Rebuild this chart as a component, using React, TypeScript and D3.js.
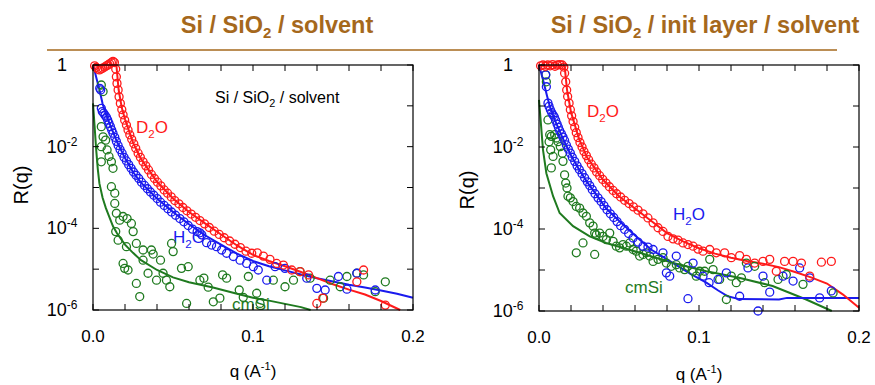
import * as d3 from 'd3';
import React from 'react';

// each point is [q (1/A), log10 R]
type Pt = [number, number];

const xTicks = [0, 0.02, 0.04, 0.06, 0.08, 0.1, 0.12, 0.14, 0.16, 0.18, 0.2];
const xTickLabels = [0, 0.1, 0.2];
const yTicks = [1, 1e-1, 1e-2, 1e-3, 1e-4, 1e-5, 1e-6];
const yTickLabels = [0, -2, -4, -6];

const leftD2O: Pt[] = [
  [0.001, -0.02], [0.002, -0.06], [0.003, -0.1], [0.004, -0.12], [0.005, -0.1], [0.006, -0.08],
  [0.0073, -0.05], [0.0084, -0.02], [0.0094, 0.0], [0.0104, 0.03], [0.0115, 0.06], [0.0125, 0.09],
  [0.0134, 0.06], [0.0142, -0.1], [0.0146, -0.29], [0.015, -0.45], [0.0157, -0.61], [0.0163, -0.78],
  [0.0171, -0.94], [0.018, -1.09], [0.0188, -1.22], [0.0198, -1.35], [0.0209, -1.47], [0.0219, -1.59],
  [0.023, -1.71], [0.0242, -1.82], [0.0255, -1.93], [0.0267, -2.04], [0.0282, -2.16], [0.0296, -2.26],
  [0.0313, -2.37], [0.033, -2.47], [0.0347, -2.57], [0.0365, -2.68], [0.0384, -2.78], [0.0403, -2.87],
  [0.0424, -2.96], [0.0445, -3.06], [0.0466, -3.14], [0.0489, -3.23], [0.0511, -3.32], [0.0537, -3.4],
  [0.0562, -3.49], [0.0587, -3.57], [0.0614, -3.65], [0.0641, -3.73], [0.0668, -3.81], [0.0697, -3.89],
  [0.0727, -3.98], [0.0758, -4.07], [0.0789, -4.15], [0.082, -4.23], [0.0854, -4.31], [0.0887, -4.39],
  [0.0921, -4.47], [0.0956, -4.56], [0.0992, -4.61], [0.1027, -4.6], [0.1065, -4.68], [0.1106, -4.76],
  [0.1148, -4.86], [0.119, -4.9], [0.1242, -5.02], [0.1294, -5.06], [0.1347, -5.14], [0.1399, -5.84],
  [0.1436, -5.71], [0.1649, -5.31], [0.1691, -5.02], [0.1827, -5.88],
];
const leftD2OFit: Pt[] = [
  [0, 0], [0.0146, 0], [0.016, -0.6], [0.018, -1.05], [0.02, -1.33], [0.025, -1.9], [0.03, -2.3],
  [0.04, -2.86], [0.05, -3.27], [0.06, -3.6], [0.07, -3.88], [0.08, -4.15], [0.09, -4.42], [0.1, -4.65],
  [0.11, -4.8], [0.12, -4.93], [0.13, -5.07], [0.14, -5.22], [0.15, -5.37], [0.16, -5.5], [0.17, -5.62],
  [0.18, -5.78], [0.192, -6.0],
];
const leftH2O: Pt[] = [
  [0.0042, -0.57], [0.0048, -0.61], [0.0052, -1.06], [0.0058, -1.14], [0.0067, -1.18], [0.0075, -1.23],
  [0.0084, -1.28], [0.0092, -1.35], [0.01, -1.43], [0.0109, -1.51], [0.0117, -1.59], [0.0125, -1.67],
  [0.0136, -1.77], [0.0146, -1.87], [0.0157, -1.97], [0.0169, -2.07], [0.0182, -2.16], [0.0194, -2.26],
  [0.0209, -2.35], [0.0223, -2.44], [0.0238, -2.53], [0.0253, -2.62], [0.0269, -2.7], [0.0286, -2.78],
  [0.0303, -2.87], [0.0322, -2.95], [0.034, -3.03], [0.0359, -3.11], [0.038, -3.19], [0.0401, -3.27],
  [0.0422, -3.36], [0.0445, -3.44], [0.0468, -3.52], [0.0491, -3.6], [0.0516, -3.68], [0.0543, -3.76],
  [0.0568, -3.84], [0.0595, -3.93], [0.0622, -4.02], [0.0651, -4.08], [0.0668, -4.11], [0.068, -4.16],
  [0.071, -4.35], [0.0741, -4.41], [0.0772, -4.45], [0.0804, -4.53], [0.0835, -4.61], [0.0877, -4.69],
  [0.0919, -4.78], [0.096, -4.86], [0.1002, -4.94], [0.1033, -5.02], [0.1086, -5.27], [0.1138, -4.94],
  [0.12, -4.98], [0.1336, -5.22], [0.1399, -5.47], [0.1451, -5.51], [0.1534, -5.18], [0.1587, -5.49],
  [0.1649, -5.1], [0.1764, -5.51],
];
const leftH2OFit: Pt[] = [
  [0.0004, -0.04], [0.002, -0.3], [0.004, -0.6], [0.006, -0.95], [0.008, -1.2], [0.01, -1.4],
  [0.015, -1.88], [0.02, -2.28], [0.025, -2.62], [0.03, -2.88], [0.04, -3.27], [0.05, -3.6],
  [0.06, -3.9], [0.07, -4.17], [0.08, -4.4], [0.09, -4.62], [0.1, -4.8], [0.11, -4.93], [0.12, -5.03],
  [0.13, -5.13], [0.14, -5.22], [0.15, -5.3], [0.16, -5.38], [0.17, -5.45], [0.18, -5.52],
  [0.19, -5.6], [0.2, -5.7],
];
const leftCmSi: Pt[] = [
  [0.0052, -0.49], [0.0063, -0.65], [0.0052, -1.51], [0.0063, -1.76], [0.0079, -1.84], [0.0052, -2.0],
  [0.0088, -2.08], [0.01, -2.24], [0.0115, -2.37], [0.0052, -2.37], [0.0125, -2.53], [0.0115, -2.98],
  [0.0136, -3.14], [0.0136, -3.39], [0.0146, -3.63], [0.0167, -3.8], [0.0188, -3.71], [0.0213, -3.76],
  [0.024, -3.88], [0.0251, -4.08], [0.0142, -4.08], [0.0157, -4.29], [0.0209, -4.45], [0.0271, -4.37],
  [0.0313, -4.53], [0.0365, -4.53], [0.0376, -4.63], [0.0313, -4.78], [0.0422, -4.78], [0.0188, -4.86],
  [0.0198, -4.98], [0.0219, -5.02], [0.0271, -5.35], [0.0292, -5.67], [0.0344, -5.1], [0.0397, -5.27],
  [0.0438, -5.1], [0.0459, -5.27], [0.048, -5.43], [0.0491, -4.37], [0.0501, -4.57], [0.0553, -4.98],
  [0.0595, -4.94], [0.0585, -5.84], [0.0668, -5.27], [0.0693, -5.22], [0.072, -5.44], [0.0752, -5.8],
  [0.0793, -5.71], [0.081, -5.14], [0.0835, -5.22], [0.0914, -5.51], [0.0939, -5.69], [0.0971, -5.18],
  [0.1023, -5.59], [0.1044, -5.84], [0.1127, -5.27], [0.12, -5.43], [0.1253, -5.27], [0.1294, -5.06],
  [0.1357, -5.22], [0.1441, -5.71], [0.1482, -5.27], [0.1545, -5.43], [0.1587, -5.18], [0.1649, -5.1],
  [0.1691, -5.14], [0.1764, -5.55], [0.1827, -5.31],
];
const leftCmSiFit: Pt[] = [
  [0, -0.94], [0.001, -1.5], [0.002, -2.08], [0.003, -2.55], [0.004, -2.9], [0.006, -3.25],
  [0.008, -3.5], [0.01, -3.7], [0.0125, -3.95], [0.015, -4.12], [0.02, -4.4], [0.025, -4.6],
  [0.03, -4.78], [0.04, -5.02], [0.05, -5.2], [0.06, -5.32], [0.075, -5.45], [0.09, -5.6], [0.1, -5.7],
  [0.11, -5.77], [0.12, -5.85], [0.13, -5.93], [0.136, -6.0],
];

const rightD2O: Pt[] = [
  [0.001, -0.02], [0.0025, 0.0], [0.004, -0.03], [0.0055, 0.0], [0.007, -0.02], [0.0085, 0.01],
  [0.01, -0.03], [0.0115, 0.0], [0.013, 0.01], [0.0145, 0.0], [0.0155, -0.05], [0.016, -0.2],
  [0.0167, -0.41], [0.0173, -0.61], [0.0179, -0.77], [0.0188, -0.93], [0.0196, -1.09], [0.0204, -1.24],
  [0.0213, -1.38], [0.0223, -1.52], [0.0233, -1.65], [0.0244, -1.77], [0.0256, -1.89], [0.0269, -2.0],
  [0.0281, -2.11], [0.0296, -2.21], [0.031, -2.31], [0.0327, -2.42], [0.0344, -2.51], [0.036, -2.61],
  [0.0379, -2.7], [0.0398, -2.79], [0.0419, -2.88], [0.044, -2.97], [0.0463, -3.06], [0.0485, -3.14],
  [0.051, -3.22], [0.0535, -3.3], [0.0563, -3.38], [0.059, -3.46], [0.0619, -3.54], [0.065, -3.63],
  [0.0681, -3.73], [0.0713, -3.85], [0.0744, -3.97], [0.0775, -4.06], [0.0806, -4.18], [0.0838, -4.24],
  [0.0869, -4.27], [0.09, -4.34], [0.0931, -4.38], [0.0963, -4.42], [0.0994, -4.49], [0.1025, -4.54],
  [0.1067, -4.5], [0.1108, -4.58], [0.116, -4.58], [0.1202, -4.7], [0.1254, -4.65], [0.1296, -4.74],
  [0.1348, -4.83], [0.14, -4.79], [0.1442, -4.74], [0.1483, -5.03], [0.1535, -4.79], [0.1588, -4.79],
  [0.164, -4.83], [0.1692, -5.15], [0.1765, -4.81], [0.1827, -4.79],
];
const rightD2OFit: Pt[] = [
  [0, -0.02], [0.016, -0.02], [0.0175, -0.6], [0.02, -1.15], [0.025, -1.8], [0.03, -2.25],
  [0.04, -2.8], [0.05, -3.2], [0.06, -3.5], [0.07, -3.8], [0.08, -4.1], [0.09, -4.3], [0.1, -4.47],
  [0.11, -4.6], [0.12, -4.7], [0.13, -4.78], [0.14, -4.85], [0.15, -4.93], [0.16, -5.05], [0.17, -5.18],
  [0.18, -5.33], [0.19, -5.6], [0.2, -5.92],
];
const rightH2O: Pt[] = [
  [0.0042, -0.24], [0.0046, -0.53], [0.0056, -0.93], [0.0063, -1.01], [0.0071, -1.09], [0.0079, -1.16],
  [0.0088, -1.22], [0.0096, -1.27], [0.0104, -1.35], [0.0113, -1.44], [0.0121, -1.52], [0.0129, -1.6],
  [0.014, -1.68], [0.015, -1.76], [0.016, -1.84], [0.0171, -1.95], [0.0183, -2.05], [0.0196, -2.15],
  [0.0208, -2.25], [0.0223, -2.35], [0.0238, -2.46], [0.0252, -2.55], [0.0269, -2.65], [0.0285, -2.75],
  [0.0302, -2.85], [0.0317, -2.94], [0.0333, -3.04], [0.035, -3.14], [0.0369, -3.24], [0.0388, -3.33],
  [0.0406, -3.43], [0.0425, -3.53], [0.0446, -3.63], [0.0467, -3.72], [0.0488, -3.82], [0.051, -3.92],
  [0.0535, -4.01], [0.056, -4.11], [0.0588, -4.22], [0.0619, -4.32], [0.065, -4.42], [0.0681, -4.44],
  [0.0713, -4.5], [0.0775, -4.58], [0.0796, -5.07], [0.0817, -5.15], [0.0858, -4.66], [0.0931, -5.7],
  [0.0963, -4.83], [0.1025, -5.15], [0.1063, -5.31], [0.1119, -5.23], [0.1171, -5.07], [0.1254, -5.64],
  [0.1306, -4.95], [0.1369, -6.0], [0.14, -5.15], [0.1442, -5.54], [0.1525, -5.15], [0.1588, -5.27],
  [0.1629, -4.95], [0.1692, -5.19], [0.1754, -5.68], [0.1827, -5.51],
];
const rightH2OFit: Pt[] = [
  [0, 0], [0.0025, -0.36], [0.005, -0.75], [0.0067, -1.0], [0.01, -1.35], [0.015, -1.8], [0.02, -2.2],
  [0.025, -2.55], [0.03, -2.85], [0.035, -3.12], [0.042, -3.5], [0.05, -3.8], [0.063, -4.26],
  [0.07, -4.5], [0.0838, -4.83], [0.095, -5.1], [0.1046, -5.31], [0.112, -5.5], [0.118, -5.64],
  [0.125, -5.71], [0.15, -5.72], [0.155, -5.68], [0.2, -5.68],
];
const rightCmSi: Pt[] = [
  [0.0042, -0.24], [0.0046, -0.41], [0.0056, -1.34], [0.0067, -1.7], [0.0077, -1.74], [0.0063, -1.87],
  [0.0073, -2.07], [0.0088, -2.23], [0.0077, -2.51], [0.0098, -1.7], [0.0108, -1.78], [0.0119, -1.87],
  [0.0133, -1.99], [0.0146, -2.15], [0.015, -2.35], [0.016, -2.68], [0.0167, -2.88], [0.0175, -3.0],
  [0.0181, -3.2], [0.0196, -3.24], [0.0213, -3.33], [0.0233, -3.45], [0.0254, -3.49], [0.0275, -3.61],
  [0.0296, -3.69], [0.0317, -3.85], [0.0338, -3.93], [0.0348, -4.1], [0.0358, -4.14], [0.0379, -4.1],
  [0.04, -4.18], [0.0421, -4.26], [0.0442, -4.1], [0.0463, -4.3], [0.0483, -4.42], [0.0504, -4.46],
  [0.0525, -4.38], [0.0546, -4.42], [0.0567, -4.34], [0.0588, -4.5], [0.0608, -4.54], [0.0629, -4.66],
  [0.065, -4.62], [0.0671, -4.58], [0.0692, -4.66], [0.0713, -4.79], [0.0744, -4.74], [0.0775, -4.7],
  [0.0796, -4.83], [0.0827, -4.91], [0.0858, -4.87], [0.0879, -4.95], [0.091, -4.99], [0.0931, -4.91],
  [0.0963, -5.03], [0.0983, -5.15], [0.1004, -5.03], [0.1035, -5.03], [0.1067, -4.74], [0.1088, -4.99],
  [0.1129, -5.23], [0.1171, -5.72], [0.1202, -5.15], [0.1233, -5.31], [0.1265, -5.19], [0.1296, -4.83],
  [0.1348, -4.91], [0.141, -5.31], [0.1494, -5.23], [0.1546, -5.11], [0.165, -5.35], [0.1838, -5.56],
  [0.0233, -4.58], [0.0275, -4.34], [0.0348, -4.62],
];
const rightCmSiFit: Pt[] = [
  [0, -0.85], [0.0025, -2.07], [0.0046, -2.64], [0.0088, -3.2], [0.0129, -3.61], [0.0213, -3.93],
  [0.0317, -4.18], [0.042, -4.34], [0.063, -4.58], [0.0838, -4.83], [0.1046, -5.03], [0.125, -5.19],
  [0.146, -5.39], [0.167, -5.72], [0.183, -6.0],
];

const RED = '#ff1a1a';
const BLUE = '#1a1aee';
const GREEN = '#1f7a1f';
const TITLE = '#a5681c';
const FONT = 'Liberation Sans, Arial, Helvetica, sans-serif';

type Label = { text: string; sub?: string; rest?: string; color: string; x: number; y: number; size: number };

function SubText({ l }: { l: Label }) {
  return (
    <text x={l.x} y={l.y} fill={l.color} fontSize={l.size} fontFamily={FONT}>
      {l.text}
      {l.sub && <tspan dy={l.size * 0.28} fontSize={l.size * 0.68}>{l.sub}</tspan>}
      {l.rest && <tspan dy={-l.size * 0.28}>{l.rest}</tspan>}
    </text>
  );
}

function Panel(props: {
  box: { x0: number; x1: number; y0: number; y1: number };
  series: { pts: Pt[]; fit: Pt[]; color: string }[];
  labels: Label[];
  yLabelY: number;
  xLabelY: number;
}) {
  const { box } = props;
  const x = d3.scaleLinear().domain([0, 0.2]).range([box.x0, box.x1]);
  const y = d3.scaleLog().domain([1e-6, 1]).range([box.y1, box.y0]);
  const line = d3.line<Pt>().x(d => x(d[0])).y(d => y(Math.pow(10, d[1])));
  const tl = 6;
  const cx = (box.x0 + box.x1) / 2;

  return (
    <g>
      {/* fits */}
      {props.series.map((s, i) => (
        <path key={'f' + i} d={line(s.fit) || ''} fill="none" stroke={s.color} strokeWidth={2} />
      ))}
      {props.labels.map((l, i) => <SubText key={'l' + i} l={l} />)}
      {/* data */}
      {props.series.map((s, i) => (
        <g key={'p' + i}>
          {s.pts.map((d, j) => (
            <circle key={j} cx={x(d[0])} cy={y(Math.pow(10, d[1]))} r={4} fill="none" stroke={s.color} strokeWidth={1.3} />
          ))}
        </g>
      ))}
      {/* frame & ticks */}
      <rect x={box.x0} y={box.y0} width={box.x1 - box.x0} height={box.y1 - box.y0} fill="none" stroke="#000" strokeWidth={1.2} />
      {xTicks.map((t, i) => (
        <g key={'xt' + i} stroke="#000" strokeWidth={1}>
          <line x1={x(t)} x2={x(t)} y1={box.y1} y2={box.y1 - tl} />
          <line x1={x(t)} x2={x(t)} y1={box.y0} y2={box.y0 + tl} />
        </g>
      ))}
      {yTicks.map((t, i) => (
        <g key={'yt' + i} stroke="#000" strokeWidth={1}>
          <line x1={box.x0} x2={box.x0 + tl} y1={y(t)} y2={y(t)} />
          <line x1={box.x1} x2={box.x1 - tl} y1={y(t)} y2={y(t)} />
        </g>
      ))}
      {xTickLabels.map((t, i) => (
        <text key={'xl' + i} x={x(t)} y={box.y1 + 32} textAnchor="middle" fontSize={17} fontFamily={FONT}>
          {d3.format('.1f')(t)}
        </text>
      ))}
      {yTickLabels.map((e, i) => (
        <text key={'yl' + i} x={box.x0 - 31} y={y(Math.pow(10, e)) + 6} textAnchor="middle" fontSize={18} fontFamily={FONT}>
          {e === 0 ? '1' : '10'}
          {e !== 0 && <tspan dy={-7} fontSize={12}>{e}</tspan>}
        </text>
      ))}
      <text transform={`translate(${box.x0 - 65},${props.yLabelY}) rotate(-90)`} textAnchor="middle" fontSize={20} fontFamily={FONT}>
        R(q)
      </text>
      <text x={cx} y={props.xLabelY} textAnchor="middle" fontSize={17} fontFamily={FONT}>
        q (A<tspan dy={-7} fontSize={11}>-1</tspan><tspan dy={7}>)</tspan>
      </text>
    </g>
  );
}

export default function App() {
  return (
    <svg width={875} height={385} style={{ position: 'absolute', left: 0, top: 0, background: '#fff' }}>
      <text x={277} y={33} textAnchor="middle" fill={TITLE} fontSize={23.5} fontWeight="bold" fontFamily={FONT}>
        Si / SiO<tspan dy={5} fontSize={15}>2</tspan><tspan dy={-5}> / solvent</tspan>
      </text>
      <text x={705} y={33} textAnchor="middle" fill={TITLE} fontSize={23.5} fontWeight="bold" fontFamily={FONT}>
        Si / SiO<tspan dy={5} fontSize={15}>2</tspan><tspan dy={-5}> / init layer / solvent</tspan>
      </text>
      <line x1={47} x2={837} y1={50} y2={50} stroke={TITLE} strokeWidth={1.5} />
      <Panel
        box={{ x0: 93, x1: 413, y0: 65, y1: 310 }}
        series={[
          { pts: leftCmSi, fit: leftCmSiFit, color: GREEN },
          { pts: leftH2O, fit: leftH2OFit, color: BLUE },
          { pts: leftD2O, fit: leftD2OFit, color: RED },
        ]}
        labels={[
          { text: 'Si / SiO', sub: '2', rest: ' / solvent', color: '#000', x: 215, y: 103, size: 16 },
          { text: 'D', sub: '2', rest: 'O', color: RED, x: 136, y: 133, size: 17 },
          { text: 'H', sub: '2', rest: 'O', color: BLUE, x: 173, y: 243, size: 17 },
          { text: 'cmSi', color: GREEN, x: 232, y: 310, size: 17 },
        ]}
        yLabelY={185}
        xLabelY={377}
      />
      <Panel
        box={{ x0: 539, x1: 859, y0: 65, y1: 311 }}
        series={[
          { pts: rightCmSi, fit: rightCmSiFit, color: GREEN },
          { pts: rightH2O, fit: rightH2OFit, color: BLUE },
          { pts: rightD2O, fit: rightD2OFit, color: RED },
        ]}
        labels={[
          { text: 'D', sub: '2', rest: 'O', color: RED, x: 587, y: 117, size: 17 },
          { text: 'H', sub: '2', rest: 'O', color: BLUE, x: 673, y: 220, size: 17 },
          { text: 'cmSi', color: GREEN, x: 625, y: 293, size: 17 },
        ]}
        yLabelY={190}
        xLabelY={380}
      />
    </svg>
  );
}
